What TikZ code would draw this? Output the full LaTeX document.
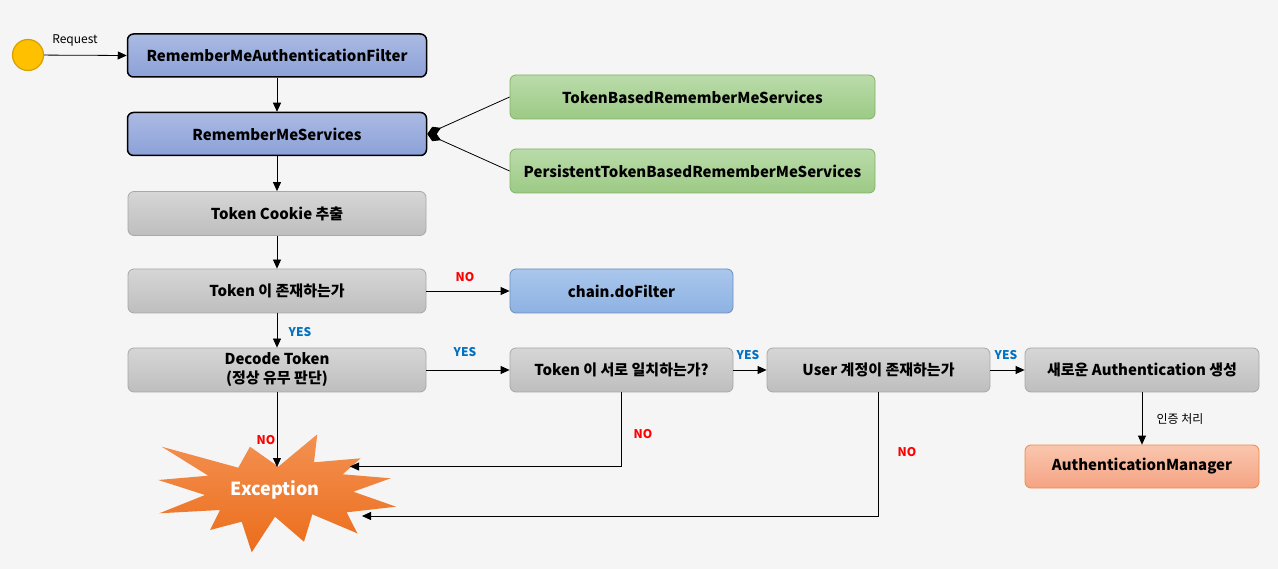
\documentclass[tikz,border=0pt]{standalone}
\usepackage{fontspec}
\setmainfont{Noto Sans CJK KR}
\usetikzlibrary{arrows.meta,shapes.geometric}
\definecolor{bgc}{HTML}{F5F5F5}
\definecolor{bluetop}{HTML}{AABAE3}
\definecolor{bluebot}{HTML}{8CA1D8}
\definecolor{greentop}{HTML}{BADBAA}
\definecolor{greenbot}{HTML}{9CCA85}
\definecolor{greenline}{HTML}{82B366}
\definecolor{graytop}{HTML}{D6D6D6}
\definecolor{graybot}{HTML}{BEBEBE}
\definecolor{grayline}{HTML}{A8A8A8}
\definecolor{chaintop}{HTML}{AAC7ED}
\definecolor{chainbot}{HTML}{8DB2E2}
\definecolor{chainline}{HTML}{6C8EBF}
\definecolor{amtop}{HTML}{F9C6AE}
\definecolor{ambot}{HTML}{F5A383}
\definecolor{amline}{HTML}{EE8A48}
\definecolor{extop}{HTML}{F39152}
\definecolor{exbot}{HTML}{EB6D1B}
\definecolor{sunfill}{HTML}{FFC000}
\definecolor{sunline}{HTML}{D6A000}
\definecolor{nored}{HTML}{FF0000}
\definecolor{yesblue}{HTML}{0070C0}
\begin{document}
\begin{tikzpicture}[x=1pt,y=-1pt,
  base/.style={rounded corners=6pt, font=\bfseries\fontsize{15}{19}\selectfont, text=black, align=center, inner sep=0pt},
  bluebox/.style={base, draw=black, line width=1.5pt, top color=bluetop, bottom color=bluebot, minimum width=299pt, minimum height=43pt},
  greenbox/.style={base, draw=greenline, line width=0.8pt, top color=greentop, bottom color=greenbot, minimum width=365pt, minimum height=44pt},
  graybox/.style={base, draw=grayline, line width=0.8pt, top color=graytop, bottom color=graybot, minimum height=44pt},
  chainbox/.style={base, draw=chainline, line width=0.8pt, top color=chaintop, bottom color=chainbot, minimum width=223pt, minimum height=44pt},
  ambox/.style={base, draw=amline, line width=0.8pt, top color=amtop, bottom color=ambot, minimum width=234pt, minimum height=43pt},
  arr/.style={draw=black, line width=0.8pt, -{Triangle[length=9pt,width=8pt]}},
  comp/.style={draw=black, line width=0.8pt, -{Diamond[length=15pt,width=9pt]}},
  nolab/.style={text=nored, font=\bfseries\fontsize{12}{14}\selectfont, inner sep=0pt},
  yeslab/.style={text=yesblue, font=\bfseries\fontsize{12}{14}\selectfont, inner sep=0pt},
  plainlab/.style={text=black, font=\fontsize{12}{14}\selectfont, inner sep=0pt}
]
\fill[bgc] (0,0) rectangle (1278,569);
\useasboundingbox (0,0) rectangle (1278,569);

% start circle
\node[circle, draw=sunline, line width=1.2pt, fill=sunfill, minimum size=31pt, inner sep=0pt] (start) at (28,55) {};

% boxes
\node[bluebox] (b1) at (277,55.5) {RememberMeAuthenticationFilter};
\node[bluebox] (b2) at (277,134) {RememberMeServices};
\node[greenbox] (g1) at (692.5,97) {TokenBasedRememberMeServices};
\node[greenbox] (g2) at (692.5,171) {PersistentTokenBasedRememberMeServices};
\node[graybox, minimum width=298pt] (c1) at (277,213.5) {Token Cookie 추출};
\node[graybox, minimum width=298pt] (c2) at (277,291) {Token 이 존재하는가};
\node[chainbox] (cf) at (621.5,291) {chain.doFilter};
\node[graybox, minimum width=298pt] (d) at (277,370) {Decode Token\\(정상 유무 판단)};
\node[graybox, minimum width=223pt] (m) at (621.5,370) {Token 이 서로 일치하는가?};
\node[graybox, minimum width=223pt] (u) at (878.5,370) {User 계정이 존재하는가};
\node[graybox, minimum width=234pt] (n) at (1142,370) {새로운 Authentication 생성};
\node[ambox] (am) at (1142,466.5) {AuthenticationManager};

% exception star
\shade[top color=extop, bottom color=exbot]
  (161.7,446.7) -- (238.3,467.7) -- (250,446.7) -- (278.3,466.7) -- (317.3,434.3) -- (314,462.3)
  -- (360.7,458.3) -- (342.7,474.3) -- (390.7,478.3) -- (353.3,491.7) -- (396,506.7) -- (346.7,512.3)
  -- (357.3,533.3) -- (312.3,514.3) -- (304,541.7) -- (275,516.7) -- (251.7,552.3) -- (241.7,521.7)
  -- (210,530) -- (220,510) -- (159.3,513.3) -- (205,495) -- (158.3,480) -- (208.3,475.7) -- cycle;
\node[text=white, font=\bfseries\fontsize{18}{21}\selectfont, inner sep=0pt] (ex) at (275,490) {Exception};
\coordinate (exTop) at (277,467);
\coordinate (exR1) at (350,466.5);
\coordinate (exR2) at (362,516);

% connectors
\draw[arr] (start) -- (b1.west);
\node[plainlab] (reqlab) at (75,40) {Request};
\draw[arr] (b1) -- (b2);
\draw[comp] (g1.west) -- (b2.east);
\draw[comp] (g2.west) -- (b2.east);
\draw[arr] (b2) -- (c1);
\draw[arr] (c1) -- (c2);
\draw[arr] (c2) -- (cf);
\node[nolab] (l1) at (465,277) {NO};
\draw[arr] (c2) -- (d);
\node[yeslab] (l2) at (300,332) {YES};
\draw[arr] (d) -- (m);
\node[yeslab] (l3) at (465,352) {YES};
\draw[arr] (d.south) -- (exTop);
\node[nolab] (l4) at (266,440) {NO};
\draw[arr] (m.south) |- (exR1);
\node[nolab] (l5) at (643,434) {NO};
\draw[arr] (m) -- (u);
\node[yeslab] (l6) at (748,355) {YES};
\draw[arr] (u.south) |- (exR2);
\node[nolab] (l7) at (907,452) {NO};
\draw[arr] (u) -- (n);
\node[yeslab] (l8) at (1006,355) {YES};
\draw[arr] (n) -- (am);
\node[plainlab] (l9) at (1180,419) {인증 처리};
\end{tikzpicture}
\end{document}
